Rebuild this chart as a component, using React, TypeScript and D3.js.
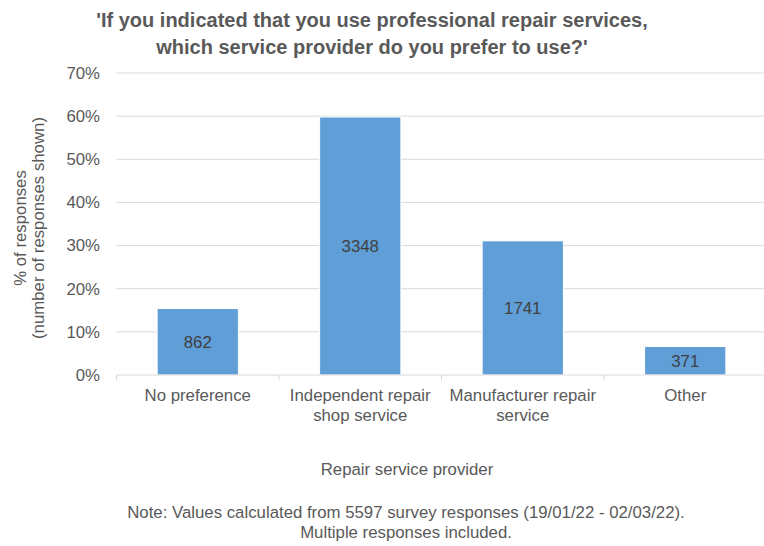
import React from "react";
import * as d3 from "d3";

const categories: string[][] = [
  ["No preference"],
  ["Independent repair", "shop service"],
  ["Manufacturer repair", "service"],
  ["Other"],
];
const percentValues: number[] = [15.4, 59.8, 31.1, 6.6];
const countLabels: string[] = ["862", "3348", "1741", "371"];
const yTicks: number[] = [0, 10, 20, 30, 40, 50, 60, 70];
const titleLines: string[] = [
  "'If you indicated that you use professional repair services,",
  "which service provider do you prefer to use?'",
];
const yTitleLines: string[] = ["% of responses", "(number of responses shown)"];
const xTitle = "Repair service provider";
const noteLines: string[] = [
  "Note: Values calculated from 5597 survey responses (19/01/22 - 02/03/22).",
  "Multiple responses included.",
];

const W = 764;
const H = 546;
const left = 116.5;
const right = 766.5;
const top = 73;
const bottom = 375;
const textColor = "#595959";
const font = "'Liberation Sans', Arial, Helvetica, sans-serif";
const fs = 16.8;

export default function App() {
  const x = d3
    .scaleBand<number>()
    .domain(categories.map((_, i) => i))
    .range([left, right])
    .paddingInner(0.5)
    .paddingOuter(0.25);
  const step = x.step();
  const y = d3.scaleLinear().domain([0, 70]).range([bottom, top]);

  return (
    <svg
      width={W}
      height={H}
      style={{ position: "absolute", left: 0, top: 0, background: "#fff" }}
      fontFamily={font}
    >
      {titleLines.map((t, i) => (
        <text
          key={i}
          x={372}
          y={27 + i * 27}
          textAnchor="middle"
          fontSize={20}
          fontWeight="bold"
          fill={textColor}
        >
          {t}
        </text>
      ))}
      {yTicks.map((t) => (
        <g key={t}>
          {t > 0 && (
            <line x1={left} x2={W} y1={y(t)} y2={y(t)} stroke="#d9d9d9" strokeWidth={1} />
          )}
          <text
            x={100}
            y={y(t)}
            dy="0.35em"
            textAnchor="end"
            fontSize={fs}
            fill={textColor}
          >
            {t}%
          </text>
        </g>
      ))}
      {percentValues.map((v, i) => (
        <g key={i}>
          <rect
            x={x(i)!}
            y={y(v)}
            width={x.bandwidth()}
            height={y(0) - y(v)}
            fill="#5f9ed6"
            stroke="#ffffff"
            strokeWidth={1}
          />
          <text
            x={x(i)! + x.bandwidth() / 2}
            y={(y(v) + y(0)) / 2}
            dy="0.35em"
            textAnchor="middle"
            fontSize={fs}
            fill="#404040"
          >
            {countLabels[i]}
          </text>
        </g>
      ))}
      <line x1={left} x2={W} y1={bottom} y2={bottom} stroke="#d9d9d9" strokeWidth={1} />
      {d3.range(categories.length + 1).map((i) => (
        <line
          key={i}
          x1={left + i * step}
          x2={left + i * step}
          y1={bottom}
          y2={bottom + 5}
          stroke="#d9d9d9"
          strokeWidth={1}
        />
      ))}
      {categories.map((lines, i) =>
        lines.map((l, j) => (
          <text
            key={i + "-" + j}
            x={x(i)! + x.bandwidth() / 2}
            y={395 + j * 20}
            dy="0.35em"
            textAnchor="middle"
            fontSize={fs}
            fill={textColor}
          >
            {l}
          </text>
        ))
      )}
      {yTitleLines.map((l, i) => (
        <text
          key={i}
          transform={`translate(${20 + i * 18},228) rotate(-90)`}
          dy="0.35em"
          textAnchor="middle"
          fontSize={fs}
          fill={textColor}
        >
          {l}
        </text>
      ))}
      <text x={407} y={469} dy="0.35em" textAnchor="middle" fontSize={fs} fill={textColor}>
        {xTitle}
      </text>
      {noteLines.map((l, i) => (
        <text
          key={i}
          x={406}
          y={512 + i * 20}
          dy="0.35em"
          textAnchor="middle"
          fontSize={fs}
          fill={textColor}
        >
          {l}
        </text>
      ))}
    </svg>
  );
}
